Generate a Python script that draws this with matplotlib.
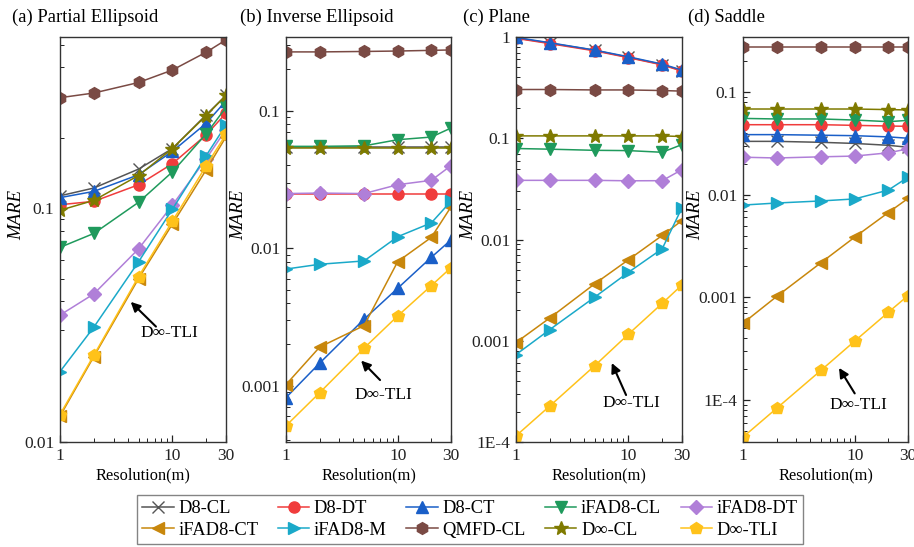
import matplotlib
matplotlib.use("Agg")
import matplotlib.pyplot as plt
from matplotlib.ticker import FixedLocator, FixedFormatter, NullFormatter

plt.rcParams['font.family'] = ['Liberation Serif', 'DejaVu Serif']

# Grid resolutions (m)
resolution = [1, 2, 5, 10, 20, 30]

methods = ["D8-CL", "D8-DT", "D8-CT", "iFAD8-CL", "iFAD8-DT",
           "iFAD8-CT", "iFAD8-M", "QMFD-CL", "D∞-CL", "D∞-TLI"]

# MARE per method (rows follow `methods`), one table per surface
mare_partial_ellipsoid = [
    [0.113, 0.122, 0.147, 0.180, 0.251, 0.304],
    [0.1035, 0.107, 0.126, 0.155, 0.206, 0.255],
    [0.111, 0.118, 0.139, 0.175, 0.231, 0.288],
    [0.068, 0.078, 0.106, 0.143, 0.208, 0.270],
    [0.0349, 0.043, 0.067, 0.103, 0.163, 0.217],
    [0.0129, 0.0232, 0.050, 0.0855, 0.146, 0.202],
    [0.020, 0.031, 0.059, 0.099, 0.168, 0.227],
    [0.297, 0.311, 0.345, 0.390, 0.465, 0.525],
    [0.098, 0.108, 0.138, 0.180, 0.249, 0.304],
    [0.0131, 0.0235, 0.051, 0.088, 0.152, 0.207],
]

mare_inverse_ellipsoid = [
    [0.0545, 0.0545, 0.0545, 0.0545, 0.0545, 0.0545],
    [0.0248, 0.0248, 0.0248, 0.0248, 0.0248, 0.0248],
    [0.00082, 0.00146, 0.00305, 0.00512, 0.0086, 0.0115],
    [0.0551, 0.0551, 0.0556, 0.0616, 0.0644, 0.0749],
    [0.0250, 0.0252, 0.0250, 0.0290, 0.0312, 0.0399],
    [0.00102, 0.00191, 0.00274, 0.0080, 0.0120, 0.0200],
    [0.00706, 0.00765, 0.00809, 0.01214, 0.0153, 0.0220],
    [0.268, 0.268, 0.270, 0.272, 0.275, 0.277],
    [0.0540, 0.0540, 0.0540, 0.0540, 0.0540, 0.0540],
    [0.000512, 0.00089, 0.00188, 0.00322, 0.00535, 0.00723],
]

mare_plane = [
    [0.98, 0.87, 0.74, 0.63, 0.535, 0.465],
    [0.97, 0.86, 0.73, 0.625, 0.53, 0.46],
    [0.99, 0.878, 0.743, 0.638, 0.540, 0.471],
    [0.0792, 0.078, 0.076, 0.0755, 0.0727, 0.0866],
    [0.0384, 0.0384, 0.0384, 0.0380, 0.0381, 0.0490],
    [0.00096, 0.00168, 0.00364, 0.0063, 0.01096, 0.0154],
    [0.00073, 0.00129, 0.00269, 0.00474, 0.0081, 0.0206],
    [0.303, 0.303, 0.300, 0.300, 0.296, 0.292],
    [0.1055, 0.1055, 0.1055, 0.1055, 0.1055, 0.104],
    [0.000115, 0.000227, 0.000565, 0.00116, 0.00234, 0.00356],
]

mare_saddle = [
    [0.0331, 0.0331, 0.0324, 0.0316, 0.0303, 0.0290],
    [0.0481, 0.0481, 0.0481, 0.0474, 0.0467, 0.0464],
    [0.0385, 0.0385, 0.0380, 0.0376, 0.0366, 0.0355],
    [0.0554, 0.0547, 0.0547, 0.0534, 0.0515, 0.053],
    [0.0232, 0.0228, 0.0234, 0.0238, 0.0256, 0.0280],
    [0.00056, 0.00102, 0.00218, 0.00386, 0.0067, 0.0092],
    [0.00793, 0.0083, 0.0087, 0.0091, 0.0111, 0.0148],
    [0.273, 0.273, 0.273, 0.273, 0.273, 0.273],
    [0.0684, 0.0684, 0.0684, 0.0684, 0.0675, 0.067],
    [4.35e-5, 8.3e-5, 0.000195, 0.000375, 0.000716, 0.00104],
]

panel_titles = ["(a) Partial Ellipsoid", "(b) Inverse Ellipsoid", "(c) Plane", "(d) Saddle"]
x_ticks = [1, 10, 30]
x_tick_labels = ["1", "10", "30"]
y_ticks_a = [0.01, 0.1]
y_labels_a = ["0.01", "0.1"]
y_ticks_b = [0.001, 0.01, 0.1]
y_labels_b = ["0.001", "0.01", "0.1"]
y_ticks_c = [1e-4, 0.001, 0.01, 0.1, 1]
y_labels_c = ["1E-4", "0.001", "0.01", "0.1", "1"]
y_ticks_d = [1e-4, 0.001, 0.01, 0.1]
y_labels_d = ["1E-4", "0.001", "0.01", "0.1"]

colors = ["#555555", "#f03c3c", "#1a5fc8", "#1f9a5c", "#b07fd8",
          "#c8870c", "#1aa9c9", "#7a4a44", "#7f7a00", "#ffc21a"]
markers = ["x", "o", "^", "v", "D", "<", ">", "h", "*", "p"]
msizes = [8, 8, 8, 8, 7, 8, 8, 8.5, 10, 9]

W, H = 914, 547
fig = plt.figure(figsize=(W / 100, H / 100), dpi=100)

# pixel boxes of the four panels: left, right
lefts_rights = [(60, 226), (286, 451), (516, 682), (743, 908)]
top_px, bottom_px = 37, 442
ylims = [(0.01, 0.54), (3.9e-4, 0.344), (1e-4, 1.0), (3.9e-5, 0.344)]
tables = [mare_partial_ellipsoid, mare_inverse_ellipsoid, mare_plane, mare_saddle]
yticks = [(y_ticks_a, y_labels_a), (y_ticks_b, y_labels_b),
          (y_ticks_c, y_labels_c), (y_ticks_d, y_labels_d)]
title_x = [12, 240, 463, 688]
ylabel_x = [18, 240, 470, 697]
# arrow head, arrow tail, text centre (axes fraction)
notes = [
    ((0.426, 0.346), (0.578, 0.285), (0.657, 0.269)),
    ((0.455, 0.201), (0.570, 0.153), (0.588, 0.116)),
    ((0.577, 0.195), (0.663, 0.116), (0.696, 0.096)),
    ((0.582, 0.183), (0.677, 0.120), (0.697, 0.091)),
]

handles = []
for k in range(4):
    l, r = lefts_rights[k]
    ax = fig.add_axes([l / W, (H - bottom_px) / H, (r - l) / W, (bottom_px - top_px) / H])
    for i, name in enumerate(methods):
        ln, = ax.plot(resolution, tables[k][i], color=colors[i], marker=markers[i],
                      markersize=msizes[i], lw=1.1, label=name,
                      markeredgewidth=1.0, markeredgecolor=colors[i])
        if k == 0:
            handles.append(ln)
    ax.set_xscale("log")
    ax.set_yscale("log")
    ax.set_xlim(1, 30)
    ax.set_ylim(*ylims[k])
    ax.xaxis.set_major_locator(FixedLocator(x_ticks))
    ax.xaxis.set_major_formatter(FixedFormatter(x_tick_labels))
    ax.xaxis.set_minor_locator(FixedLocator([2, 3, 4, 5, 6, 7, 8, 9, 20]))
    ax.xaxis.set_minor_formatter(NullFormatter())
    ax.yaxis.set_major_locator(FixedLocator(yticks[k][0]))
    ax.yaxis.set_major_formatter(FixedFormatter(yticks[k][1]))
    ax.yaxis.set_minor_formatter(NullFormatter())
    ax.tick_params(which="both", direction="in", top=False, right=False,
                   labelsize=12.5, colors="#222222")
    ax.tick_params(which="major", length=5, width=0.9, pad=4)
    ax.tick_params(which="minor", length=3, width=0.7)
    for sp in ax.spines.values():
        sp.set_linewidth(1.0)
        sp.set_color("#333333")
    ax.set_xlabel("Resolution(m)", fontsize=11.8, labelpad=3)
    ax.set_ylabel("MARE", fontsize=13.5, style="italic")
    ax.yaxis.set_label_coords((ylabel_x[k] + 7 - l) / (r - l), 0.56)
    fig.text(title_x[k] / W, 1 - 17 / H, panel_titles[k], fontsize=13.4,
             ha="left", va="center")
    head, tail, txt = notes[k]
    ax.annotate("", xy=head, xytext=tail, xycoords="axes fraction",
                textcoords="axes fraction",
                arrowprops=dict(arrowstyle="-|>", color="black", lw=1.5,
                                mutation_scale=14, shrinkA=0, shrinkB=0))
    ax.text(txt[0], txt[1], "D∞-TLI", transform=ax.transAxes, fontsize=12.5,
            ha="center", va="center")

order = [0, 5, 1, 6, 2, 7, 3, 8, 4, 9]
leg = fig.legend([handles[i] for i in order], [methods[i] for i in order],
                 loc="center", bbox_to_anchor=(470 / W, 1 - 519.5 / H), ncol=5,
                 fontsize=13.3, frameon=True, fancybox=False, edgecolor="#666666",
                 handlelength=1.7, handletextpad=0.25, columnspacing=1.05,
                 labelspacing=0.22, borderpad=0.3, borderaxespad=0)
leg.get_frame().set_linewidth(1.0)

fig.savefig("out.png", dpi=100)
